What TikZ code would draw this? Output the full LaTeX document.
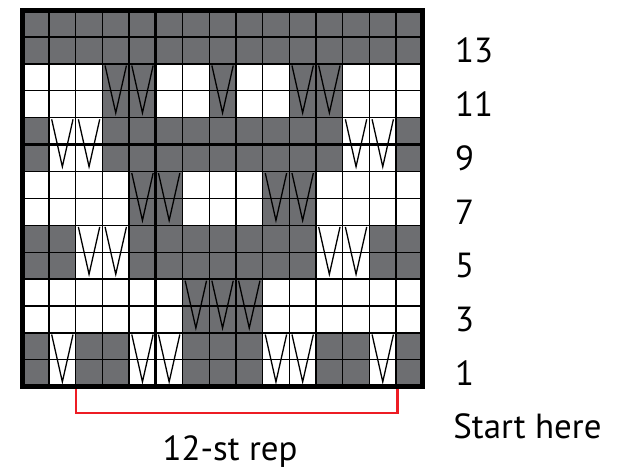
\documentclass[tikz,border=0pt]{standalone}
\usepackage{fontspec}
\setmainfont{PT Sans}
\usetikzlibrary{positioning}
\definecolor{knitgray}{RGB}{109,110,113}
\definecolor{repred}{RGB}{237,28,36}
\tikzset{
  darkcell/.style={fill=knitgray},
  gridln/.style={line width=1.3bp, draw=black},
  heavyln/.style={line width=3bp, draw=black},
  frameln/.style={line width=5bp, draw=black},
  % slip stitch over two rows
  slip/.style={line width=1.3bp, draw=black},
  repline/.style={line width=2.3bp, draw=repred},
  rownum/.style={font=\fontsize{35}{42}\selectfont, inner sep=0pt}
}

\begin{document}
\begin{tikzpicture}[x=1bp,y=1bp]
  \useasboundingbox (0,0) rectangle (622,472);
  \begin{scope}[shift={(22.3,85.3)}, x=26.7bp, y=26.9bp]
    % --- dark cells, row pairs from the bottom ---
    \foreach \p/\cols in {1/{1,3,4,7,8,9,12,13,15}, 2/{7,8,9},
        3/{1,2,5,6,7,8,9,10,11,14,15}, 4/{5,6,10,11},
        5/{1,4,5,6,7,8,9,10,11,12,15}, 6/{4,5,8,11,12}}{
      \foreach \c in \cols
        \fill[darkcell] (\c-1,2*\p-2) rectangle (\c,2*\p);
    }
    \fill[darkcell] (0,12) rectangle (15,14);

    % --- grid ---
    \foreach \i in {1,...,14}
      \draw[gridln] (\i,0) -- (\i,14);
    \foreach \j in {1,...,13}
      \draw[gridln] (0,\j) -- (15,\j);
    \draw[heavyln] (5,0) -- (5,14);
    \draw[heavyln] (0,9) -- (15,9);

    % --- slipped stitches ---
    \foreach \p/\cols in {1/{2,5,6,10,11,14}, 2/{7,8,9}, 3/{3,4,12,13},
        4/{5,6,10,11}, 5/{2,3,13,14}, 6/{4,5,8,11,12}}{
      \foreach \c in \cols
        \draw[slip] (\c-0.9,2*\p-0.06) -- (\c-0.5,2*\p-1.82) -- (\c-0.1,2*\p-0.06);
    }

    % --- repeat bracket ---
    \coordinate (repL) at (2,-0.1);
    \coordinate (repR) at (14.05,-0.1);
    \draw[repline] (repL) -- ++(0,-0.87) -| (repR);

    \draw[frameln] (0,0) rectangle (15,14);

    % --- labels ---
    \foreach \r in {1,3,...,13}
      \node[rownum, anchor=west] (row\r) at (16.2,\r-0.5) {\r};
    \node[rownum, anchor=base west] (start) at (16.14,-1.92) {Start here};
    \node[rownum, anchor=base] (rep) at (7.78,-2.76) {12-st rep};
  \end{scope}
\end{tikzpicture}
\end{document}
